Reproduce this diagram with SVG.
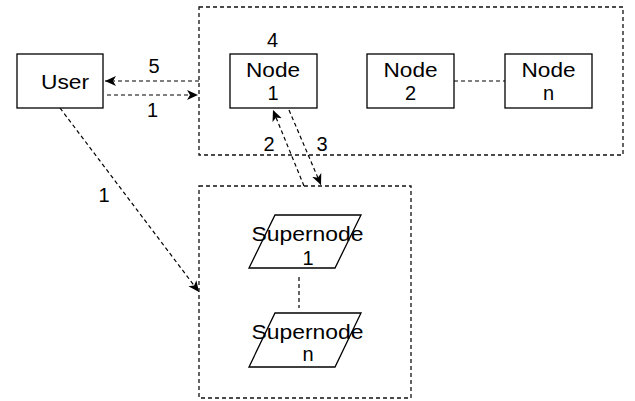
<svg xmlns="http://www.w3.org/2000/svg" width="635" height="401" viewBox="0 0 635 401">
<style>
.box{fill:#fff;stroke:#000;stroke-width:1.3}
.cont{fill:none;stroke:#111;stroke-width:1.3;stroke-dasharray:4 3}
.dl{fill:none;stroke:#000;stroke-width:1.2;stroke-dasharray:4 3}
text{font-family:"Liberation Sans",Arial,sans-serif;font-size:20px;fill:#000;text-anchor:middle}
</style>
<defs>
<marker id="ah" markerUnits="userSpaceOnUse" markerWidth="12" markerHeight="11" refX="11" refY="5" orient="auto">
<path d="M0,0 L11,5 L0,10 L3,5 Z" fill="#000"/>
</marker>
</defs>
<g id="containers">
<rect class="cont" x="199" y="7" width="424" height="148"/>
<rect class="cont" x="199" y="186" width="212" height="212"/>
</g>
<g id="connectors">
<line class="dl" x1="199" y1="81" x2="105" y2="81" marker-end="url(#ah)"/>
<line class="dl" x1="107" y1="95" x2="198" y2="95" marker-end="url(#ah)"/>
<line class="dl" x1="60" y1="108" x2="199" y2="292" marker-end="url(#ah)"/>
<line class="dl" x1="304" y1="186" x2="273" y2="110" marker-end="url(#ah)"/>
<line class="dl" x1="289" y1="110" x2="321" y2="185" marker-end="url(#ah)"/>
<line class="dl" x1="454" y1="81" x2="505" y2="81"/>
<line class="dl" x1="299" y1="277" x2="299" y2="308"/>
<text x="154" y="73">5</text>
<text x="152.5" y="117">1</text>
<text x="269" y="151">2</text>
<text x="322" y="151">3</text>
<text x="104" y="202">1</text>
</g>
<g id="user">
<rect class="box" x="17" y="54" width="86" height="54"/>
<text x="65" y="89" textLength="48" lengthAdjust="spacingAndGlyphs">User</text>
</g>
<g id="node1">
<rect class="box" x="230" y="54" width="87" height="54"/>
<text x="273" y="77" textLength="54" lengthAdjust="spacingAndGlyphs">Node</text>
<text x="273" y="99.5">1</text>
<text x="272.5" y="47">4</text>
</g>
<g id="node2">
<rect class="box" x="367" y="54" width="87" height="54"/>
<text x="410.5" y="77" textLength="54" lengthAdjust="spacingAndGlyphs">Node</text>
<text x="410.5" y="100">2</text>
</g>
<g id="noden">
<rect class="box" x="505" y="54" width="87" height="54"/>
<text x="548.5" y="77" textLength="54" lengthAdjust="spacingAndGlyphs">Node</text>
<text x="548.5" y="100">n</text>
</g>
<g id="supernode1">
<path class="box" d="M275,215 L361,215 L335,268 L249,268 Z" style="fill:none"/>
<text x="307.5" y="241" textLength="112" lengthAdjust="spacingAndGlyphs">Supernode</text>
<text x="308" y="265">1</text>
</g>
<g id="supernoden">
<path class="box" d="M275,313 L361,313 L335,367 L249,367 Z" style="fill:none"/>
<text x="307.5" y="338.5" textLength="112" lengthAdjust="spacingAndGlyphs">Supernode</text>
<text x="308" y="361">n</text>
</g>
</svg>
